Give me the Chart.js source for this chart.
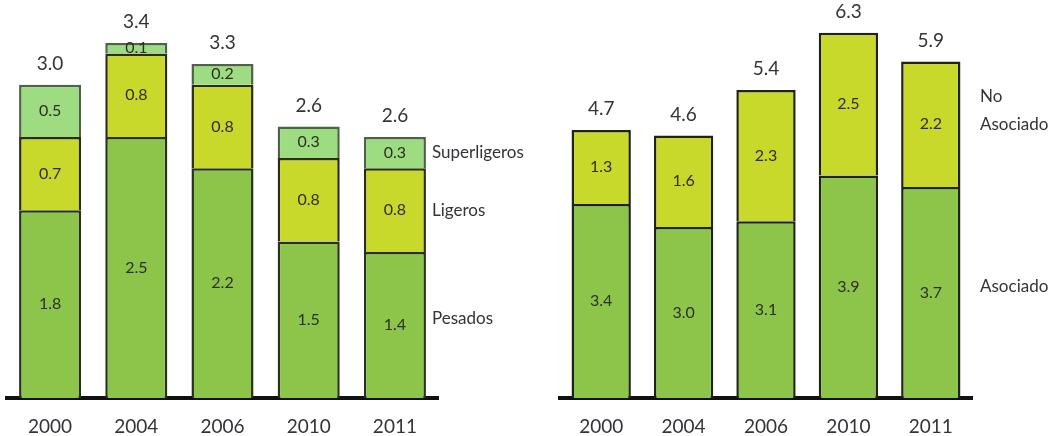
<!DOCTYPE html>
<html>
<head>
<meta charset="utf-8">
<script src="https://cdn.jsdelivr.net/npm/chart.js@4.4.0/dist/chart.umd.min.js"></script>
<style>
  body { margin: 0; background: #fff; overflow: hidden; }
  .box { position: absolute; top: 0; height: 455px; }
  #left { left: 0; width: 540px; }
  #right { left: 540px; width: 522px; }
</style>
</head>
<body>
<div class="box" id="left"><canvas id="chartLeft"></canvas></div>
<div class="box" id="right"><canvas id="chartRight"></canvas></div>
<script>
const years = ['2000', '2004', '2006', '2010', '2011'];

// left panel
const pesados = [1.8, 2.5, 2.2, 1.5, 1.4];
const ligeros = [0.7, 0.8, 0.8, 0.8, 0.8];
const superligeros = [0.5, 0.1, 0.2, 0.3, 0.3];
const totalTipo = [3.0, 3.4, 3.3, 2.6, 2.6];

// right panel
const asociado = [3.4, 3.0, 3.1, 3.9, 3.7];
const noAsociado = [1.3, 1.6, 2.3, 2.5, 2.2];
const totalAsociacion = [4.7, 4.6, 5.4, 6.3, 5.9];

const FONT = 'Lato, "Open Sans", sans-serif';
const TEXT = '#333338';

const barLabels = {
    id: 'barLabels',
    afterDatasetsDraw(chart, args, opts) {
        const ctx = chart.ctx;
        const sets = chart.data.datasets;
        ctx.save();
        ctx.textAlign = 'center';
        ctx.textBaseline = 'middle';

        // values inside each segment
        ctx.font = '16px ' + FONT;
        ctx.fillStyle = '#2e2e22';
        sets.forEach((ds, i) => {
            chart.getDatasetMeta(i).data.forEach((bar, j) => {
                ctx.fillText(ds.data[j].toFixed(1), bar.x, (bar.y + bar.base) / 2);
            });
        });

        // totals above the stacks
        ctx.font = '19px ' + FONT;
        ctx.fillStyle = TEXT;
        chart.getDatasetMeta(sets.length - 1).data.forEach((bar, j) => {
            ctx.fillText(opts.totals[j].toFixed(1), bar.x, bar.y - 21);
        });

        // series names next to the last bar
        ctx.font = '17px ' + FONT;
        ctx.textAlign = 'left';
        sets.forEach((ds, i) => {
            const bars = chart.getDatasetMeta(i).data;
            const bar = bars[bars.length - 1];
            const mid = (bar.y + bar.base) / 2 + (opts.nameShift[i] || 0);
            const lines = ds.label.split(' ');
            lines.forEach((t, k) => {
                ctx.fillText(t, chart.chartArea.right + opts.nameX, mid - (lines.length - 1 - k) * 28);
            });
        });
        ctx.restore();
    }
};

function makeChart(id, datasets, totals, yMax, padding, nameX, nameShift) {
    new Chart(document.getElementById(id), {
        type: 'bar',
        data: { labels: years, datasets: datasets },
        options: {
            responsive: true,
            maintainAspectRatio: false,
            animation: false,
            layout: { padding: padding },
            plugins: {
                legend: { display: false },
                tooltip: { enabled: false },
                barLabels: { totals: totals, nameX: nameX, nameShift: nameShift }
            },
            datasets: {
                bar: {
                    categoryPercentage: 1,
                    barPercentage: 0.72,
                    borderWidth: 2.5,
                    borderSkipped: 'bottom',
                    inflateAmount: 0
                }
            },
            scales: {
                x: {
                    stacked: true,
                    grid: { display: false, drawTicks: false },
                    border: { display: true, color: '#111', width: 4 },
                    ticks: { color: TEXT, font: { family: FONT, size: 19 }, padding: 17 }
                },
                y: {
                    stacked: true,
                    display: false,
                    min: 0,
                    max: yMax
                }
            }
        },
        plugins: [barLabels]
    });
}

makeChart('chartLeft', [
    { label: 'Pesados', data: pesados, backgroundColor: '#8dc54a', borderColor: '#26321a' },
    { label: 'Ligeros', data: ligeros, backgroundColor: '#c8d92b', borderColor: '#2a2d12' },
    { label: 'Superligeros', data: superligeros, backgroundColor: '#9ddc80', borderColor: '#4d6346' }
], totalTipo, 3.62, { left: 7, right: 102, top: 20, bottom: 0 }, -6, [-7, 0, 0]);

makeChart('chartRight', [
    { label: 'Asociado', data: asociado, backgroundColor: '#8dc54a', borderColor: '#1e2414' },
    { label: 'No Asociado', data: noAsociado, backgroundColor: '#c8d92b', borderColor: '#1e2414' }
], totalAsociacion, 6.8, { left: 20, right: 90, top: 10, bottom: 0 }, 8, [-6, 0]);
</script>
</body>
</html>
